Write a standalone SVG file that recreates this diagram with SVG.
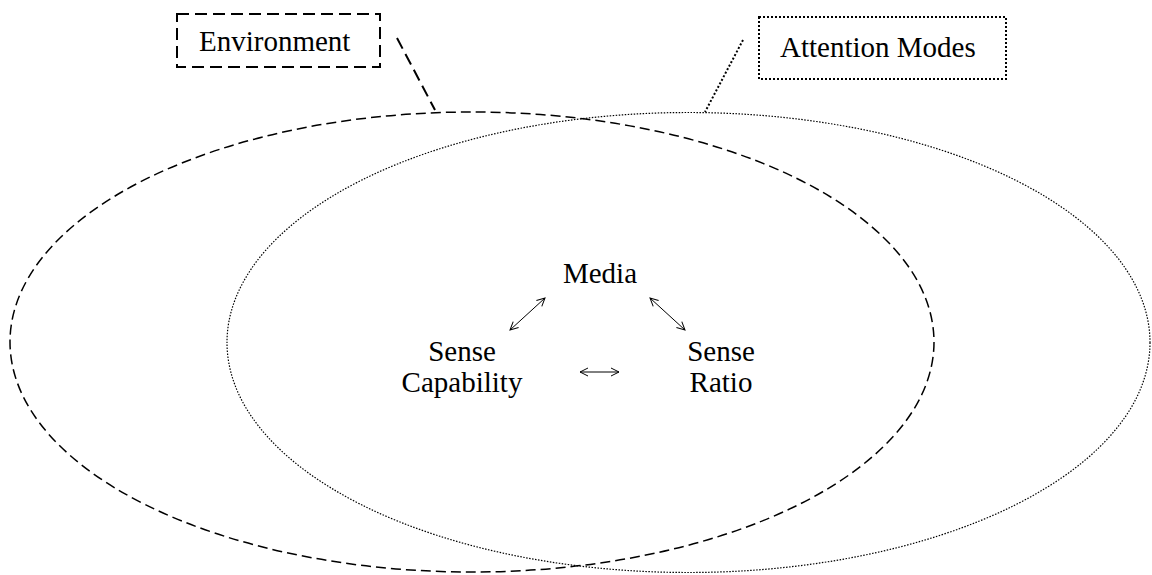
<svg xmlns="http://www.w3.org/2000/svg" width="1152" height="575" viewBox="0 0 1152 575">
<defs>
<style>
.t{font-family:"Liberation Serif","Times New Roman",serif;font-size:29px;fill:#000}
.dash{fill:none;stroke:#000;stroke-width:1.5;stroke-dasharray:10 5}
.dot{fill:none;stroke:#000;stroke-width:1.2;stroke-dasharray:1.5 1.5}
.bdash{fill:none;stroke:#000;stroke-width:2;stroke-dasharray:12 6}
.bdot{fill:none;stroke:#000;stroke-width:2;stroke-dasharray:2 2}
.arr{fill:none;stroke:#000;stroke-width:1;marker-start:url(#ah);marker-end:url(#ah)}
</style>
<marker id="ah" viewBox="0 0 10 10" refX="9" refY="5" markerWidth="10" markerHeight="10" markerUnits="userSpaceOnUse" orient="auto-start-reverse">
<path d="M1,1 L9,5 L1,9" fill="none" stroke="#000" stroke-width="1"/>
</marker>
</defs>
<rect width="1152" height="575" fill="#fff"/>
<g id="environment">
<ellipse class="dash" cx="472" cy="342" rx="462" ry="230"/>
<rect class="bdash" x="177" y="14" width="203" height="53"/>
<text class="t" x="199" y="51">Environment</text>
</g>
<g id="attention-modes">
<ellipse class="dot" cx="688.5" cy="342.5" rx="461.5" ry="230"/>
<rect class="bdot" x="759" y="17" width="247" height="62"/>
<text class="t" x="780" y="57">Attention Modes</text>
</g>
<g id="media"><text class="t" x="600" y="283" text-anchor="middle">Media</text></g>
<g id="sense-capability"><text class="t" text-anchor="middle"><tspan x="462" y="361">Sense</tspan><tspan x="462" y="392">Capability</tspan></text></g>
<g id="sense-ratio"><text class="t" text-anchor="middle"><tspan x="721" y="361">Sense</tspan><tspan x="721" y="392">Ratio</tspan></text></g>
<g id="connectors">
<line class="bdash" x1="397" y1="38" x2="435" y2="110"/>
<line class="bdot" x1="743" y1="40" x2="705" y2="112"/>
<line class="arr" x1="510" y1="330" x2="545" y2="298"/>
<line class="arr" x1="650" y1="298" x2="685" y2="330"/>
<line class="arr" x1="580" y1="372" x2="619" y2="372"/>
</g>
</svg>
